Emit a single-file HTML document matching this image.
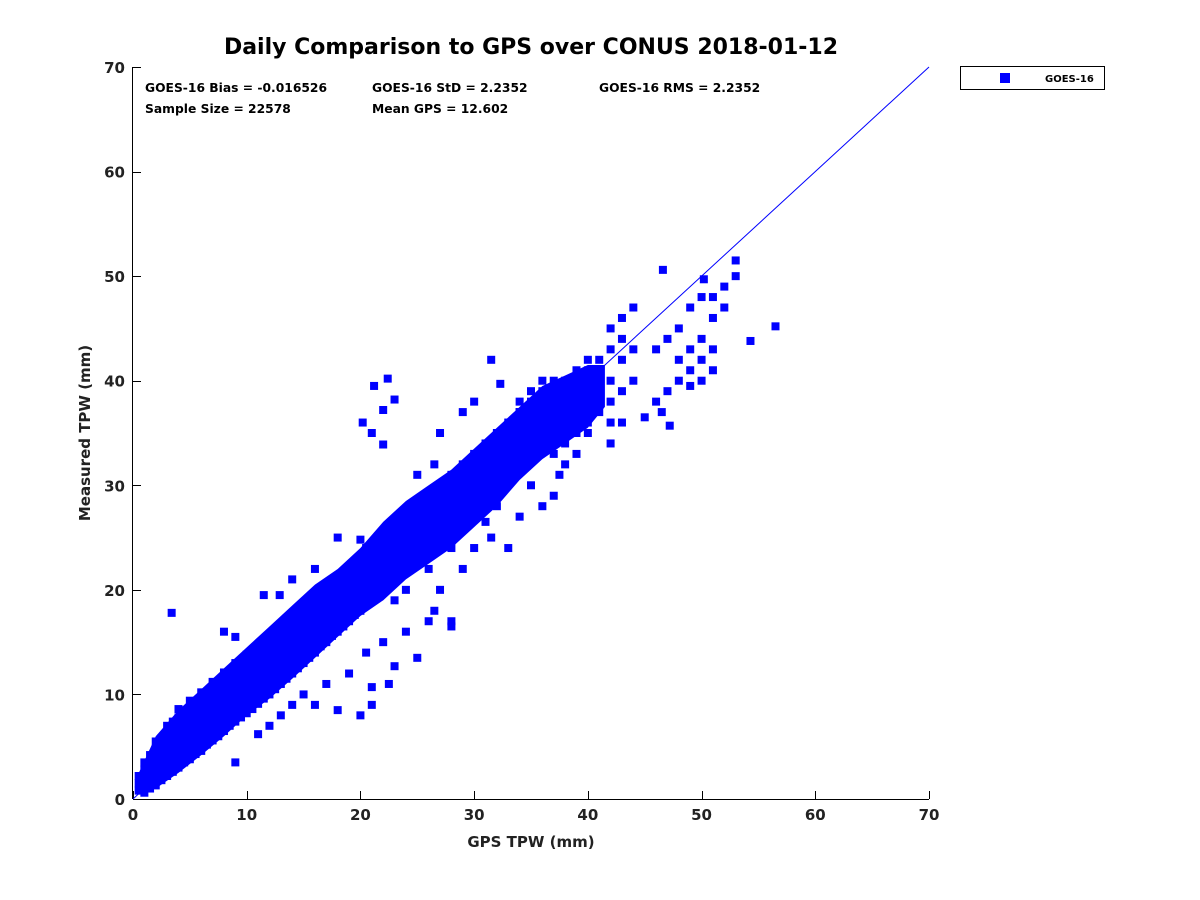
<!DOCTYPE html>
<html><head><meta charset="utf-8"><title>Daily Comparison to GPS</title>
<style>
html,body{margin:0;padding:0;background:#fff;}
svg{display:block;font-family:"DejaVu Sans","Liberation Sans",sans-serif;}
</style></head>
<body>
<svg id="chart" width="1200" height="900" viewBox="0 0 1200 900">
<text x="531" y="54" text-anchor="middle" font-size="22" font-weight="bold" fill="#000">Daily Comparison to GPS over CONUS 2018-01-12</text>
<g id="axes"></g>
<g id="points"></g>
<g font-size="12.3" font-weight="bold" fill="#000">
<text x="145" y="92">GOES-16 Bias = -0.016526</text>
<text x="372" y="92">GOES-16 StD = 2.2352</text>
<text x="599" y="92">GOES-16 RMS = 2.2352</text>
<text x="145" y="113">Sample Size = 22578</text>
<text x="372" y="113">Mean GPS = 12.602</text>
</g>
<text x="531" y="847" text-anchor="middle" font-size="15" font-weight="bold" fill="#222">GPS TPW (mm)</text>
<text transform="translate(90,433) rotate(-90)" text-anchor="middle" font-size="15" font-weight="bold" fill="#222">Measured TPW (mm)</text>
<g>
<rect x="960.5" y="66.5" width="144" height="23" fill="#fff" stroke="#000" stroke-width="1"/>
<rect x="1000" y="73" width="10" height="10" fill="#0000ff"/>
<text x="1045" y="82" font-size="10" font-weight="bold" fill="#000">GOES-16</text>
</g>
</svg>
<script>
const xTicks=[0,10,20,30,40,50,60,70];
const yTicks=[0,10,20,30,40,50,60,70];
const refLine=[[0,0],[70,70]];
const bandX=[0.3,2,4,6,8,10,12,14,16,18,20,22,24,26,28,30,32,34,36,38,40,41.5];
const bandLo=[0.7,1,2.5,4.2,6,8,9.6,11.5,13.5,15.5,17.5,19,21,22.5,24,26,28,30.5,32.5,34,35.5,37.5];
const bandHi=[2,6,8.5,10.5,12.5,14.5,16.5,18.5,20.5,22,24,26.5,28.5,30,31.5,33.5,35.5,37.5,39.5,40.5,41.5,41.5];
const data="0.5,0.8 0.5,1.5 0.5,2.2 1,0.6 1,1.3 1,2 1,2.8 1,3.5 1.5,1 1.5,1.8 1.5,2.6 1.5,3.4 1.5,4.2 2,1.3 2,2.1 2,2.9 2,3.7 2,4.5 2,5.5 2.5,1.8 2.5,2.6 2.5,3.4 2.5,4.2 2.5,5 2.5,5.8 3,2.2 3,3 3,3.8 3,4.6 3,5.4 3,6.2 3,7 3.5,2.6 3.5,3.4 3.5,4.2 3.5,5 3.5,5.8 3.5,6.6 3.5,7.4 4,3 4,3.8 4,4.6 4,5.4 4,6.2 4,7 4,7.8 4,8.6 4.5,3.5 4.5,4.3 4.5,5.1 4.5,5.9 4.5,6.7 4.5,7.5 4.5,8.3 5,3.8 5,4.6 5,5.4 5,6.2 5,7 5,7.8 5,8.6 5,9.4 5.5,4.3 5.5,5.1 5.5,5.9 5.5,6.7 5.5,7.5 5.5,8.3 5.5,9.1 6,4.6 6,5.4 6,6.2 6,7 6,7.8 6,8.6 6,9.4 6,10.2 6.5,5.2 6.5,6 6.5,6.8 6.5,7.6 6.5,8.4 6.5,9.2 6.5,10 7,5.6 7,6.4 7,7.2 7,8 7,8.8 7,9.6 7,10.4 7,11.2 7.5,6 7.5,6.8 7.5,7.6 7.5,8.4 7.5,9.2 7.5,10 7.5,10.8 8,6.5 8,7.3 8,8.1 8,8.9 8,9.7 8,10.5 8,11.3 8,12.1 8.5,7 8.5,7.8 8.5,8.6 8.5,9.4 8.5,10.2 8.5,11 8.5,11.8 9,7.4 9,8.2 9,9 9,9.8 9,10.6 9,11.4 9,12.2 9,13 9.5,7.8 9.5,8.6 9.5,9.4 9.5,10.2 9.5,11 9.5,11.8 9.5,12.6 10,8.2 10,9 10,9.8 10,10.6 10,11.4 10,12.2 10,13 10,13.8 10.5,8.6 10.5,9.4 10.5,10.2 10.5,11 10.5,11.8 10.5,12.6 10.5,13.4 11,9.1 11,9.9 11,10.7 11,11.5 11,12.3 11,13.1 11,13.9 11,14.7 11.5,9.6 11.5,10.4 11.5,11.2 11.5,12 11.5,12.8 11.5,13.6 11.5,14.4 12,10 12,10.8 12,11.6 12,12.4 12,13.2 12,14 12,14.8 12,15.6 12.5,10.5 12.5,11.3 12.5,12.1 12.5,12.9 12.5,13.7 12.5,14.5 12.5,15.3 13,11 13,11.8 13,12.6 13,13.4 13,14.2 13,15 13,15.8 13,16.6 13.5,11.5 13.5,12.3 13.5,13.1 13.5,13.9 13.5,14.7 13.5,15.5 13.5,16.3 14,12 14,12.8 14,13.6 14,14.4 14,15.2 14,16 14,16.8 14,17.6 14.5,12.5 14.5,13.3 14.5,14.1 14.5,14.9 14.5,15.7 14.5,16.5 14.5,17.3 15,13 15,13.8 15,14.6 15,15.4 15,16.2 15,17 15,17.8 15,18.6 15.5,13.5 15.5,14.3 15.5,15.1 15.5,15.9 15.5,16.7 15.5,17.5 16,14 16,14.8 16,15.6 16,16.4 16,17.2 16,18 16,18.8 16,19.6 16.5,14.6 16.5,15.4 16.5,16.2 16.5,17 16.5,17.8 16.5,18.6 17,15 17,15.8 17,16.6 17,17.4 17,18.2 17,19 17,19.8 17.5,15.6 17.5,16.4 17.5,17.2 17.5,18 17.5,18.8 17.5,19.6 18,16 18,16.8 18,17.6 18,18.4 18,19.2 18,20 18,20.8 18.5,16.5 18.5,17.3 18.5,18.1 18.5,18.9 18.5,19.7 18.5,20.5 19,17 19,17.8 19,18.6 19,19.4 19,20.2 19,21 19,21.8 19.5,17.6 19.5,18.4 19.5,19.2 19.5,20 19.5,20.8 19.5,21.6 20,18 20,18.8 20,19.6 20,20.4 20,21.2 20,22 20,24.8 21,19 21,20 21,21 21,22 21,23 21,24 22,20 22,21 22,22 22,23 22,24 22,25 23,21 23,22 23,23 23,24 23,25 23,26 24,22 24,23 24,24 24,25 24,26 24,27 25,23 25,24 25,25 25,26 25,27 25,28 26,24 26,25 26,26 26,27 26,28 26,29 27,25 27,26 27,27 27,28 27,29 27,30 28,26 28,27 28,28 28,29 28,30 28,31 29,27 29,28.5 29,30 29,31 29,32 30,28 30,29.5 30,31 30,32 30,33 31,29 31,30 31,31.5 31,33 31,34 32,30 32,31 32,33 32,34 32,35 33,31 33,32 33,34 33,35 33,36 34,32 34,33 34,35 34,36 34,37 34,38 35,33 35,34 35,35 35,36 35,37 35,38 35,39 36,34 36,35 36,36 36,37 36,38 36,39 36,40 37,33 37,35 37,36 37,37 37,38 37,39 37,40 38,34 38,35 38,36 38,37 38,38 38,39 38,40 39,35 39,36 39,37 39,38 39,39 39,40 39,41 40,36 40,37 40,38 40,39 40,40 40,41 40,42 41,37 41,38 41,39 41,40 41,42 42,36 42,38 42,40 42,43 42,45 43,39 43,42 43,44 43,46 44,40 44,43 44,47 46,38 47,39 48,40 48,42 49,41 49,43 50,40 50,42 50,44 51,41 51,43 51,46 46,43 47,44 48,45 49,47 50,48 51,48 52,49 53,50 52,47 53,51.5 56.5,45.2 54.3,43.8 46.6,50.6 50.2,49.7 49,39.5 46.5,37 47.2,35.7 45,36.5 3.4,17.8 8,16 9,15.5 11.5,19.5 14,21 16,22 18,25 20.5,24 21.2,39.5 22.4,40.2 22,37.2 23,38.2 20.2,36 21,35 22,33.9 12.9,19.5 25,31 27,35 29,37 30,38 31.5,42 32.3,39.7 34,37 17.8,21 19.8,23 26.5,32 9,3.5 12,7 16,9 18,8.5 20,8 21,9 22.5,11 22,15 24,16 25,13.5 26,17 28,17 28,16.5 27,20 29,22 31,26.5 31.5,25 33,24 34,27 30,24 36,28 37,29 38,32 39,33 40,35 42,34 43,36 14,9 13,8 11,6.2 15,10 17,11 19,12 20.5,14 23,19 24,20 26,22 28,24 32,28 35,30 37.5,31 21,10.7 23,12.7 26.5,18 30,27";
const NS="http://www.w3.org/2000/svg";
const X0=133,X1=929,Y0=799,Y1=67,XMIN=0,XMAX=70,YMIN=0,YMAX=70;
function sx(v){return X0+(v-XMIN)/(XMAX-XMIN)*(X1-X0);}
function sy(v){return Y0-(v-YMIN)/(YMAX-YMIN)*(Y0-Y1);}
function mk(tag,attrs,parent){const e=document.createElementNS(NS,tag);for(const k in attrs)e.setAttribute(k,attrs[k]);parent.appendChild(e);return e;}
const axes=document.getElementById('axes');
let l=mk('line',{x1:X0,y1:Y0+0.5,x2:X1,y2:Y0+0.5,stroke:'#000','stroke-width':1},axes);


l=mk('line',{x1:X0-0.5,y1:Y0,x2:X0-0.5,y2:Y1,stroke:'#000','stroke-width':1},axes);


xTicks.forEach(v=>{
  const x=Math.round(sx(v))+0.5;
  const t=mk('line',{x1:x,y1:Y0,x2:x,y2:Y0-8,stroke:'#000','stroke-width':1},axes);
  
  
  const tx=mk('text',{x:sx(v),y:Y0+21,'text-anchor':'middle','font-size':15,'font-weight':'bold',fill:'#222'},axes);
  tx.textContent=v;
  
  
});
yTicks.forEach(v=>{
  const y=Math.round(sy(v))+0.5;
  const t=mk('line',{x1:X0,y1:y,x2:X0+8,y2:y,stroke:'#000','stroke-width':1},axes);
  
  
  const tx=mk('text',{x:X0-8,y:sy(v)+6,'text-anchor':'end','font-size':15,'font-weight':'bold',fill:'#222'},axes);
  tx.textContent=v;
  
  
});
const pts=document.getElementById('points');
let poly=[];
bandX.forEach((x,i)=>poly.push(sx(x)+','+sy(bandHi[i])));
for(let i=bandX.length-1;i>=0;i--)poly.push(sx(bandX[i])+','+sy(bandLo[i]));
const band=mk('polygon',{points:poly.join(' '),fill:'#0000ff'},pts);


data.split(' ').forEach(p=>{
  const [a,b]=p.split(',').map(Number);
  const r=mk('rect',{x:sx(a)-4,y:sy(b)-4,width:8,height:8,fill:'#0000ff'},pts);
  
  
});
const rl=mk('line',{x1:sx(refLine[0][0]),y1:sy(refLine[0][1]),x2:sx(refLine[1][0]),y2:sy(refLine[1][1]),stroke:'#0000ff','stroke-width':1},pts);


</script>
</body></html>
